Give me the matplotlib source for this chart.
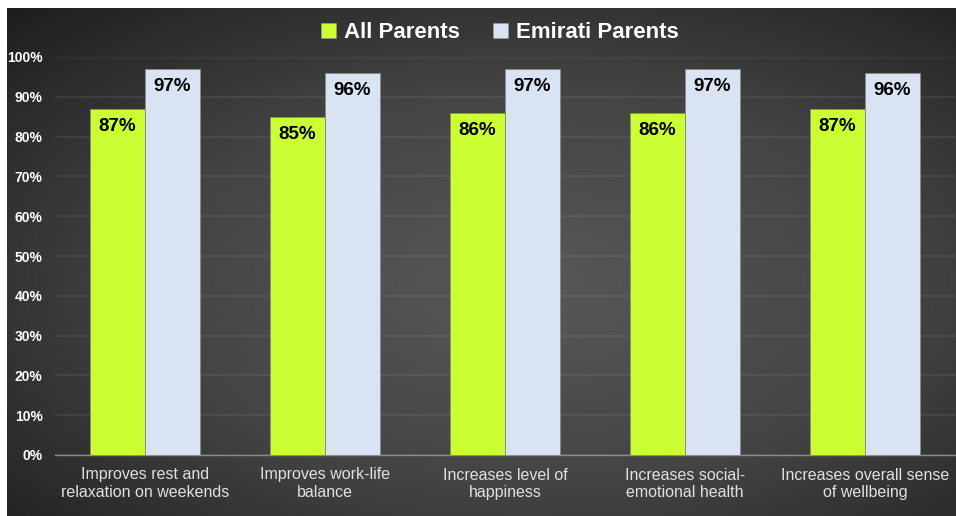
import matplotlib.pyplot as plt
import numpy as np
from matplotlib.colors import LinearSegmentedColormap
from matplotlib.patches import Patch

categories = [
    "Improves rest and\nrelaxation on weekends",
    "Improves work-life\nbalance",
    "Increases level of\nhappiness",
    "Increases social-\nemotional health",
    "Increases overall sense\nof wellbeing",
]
all_parents = [87, 85, 86, 86, 87]
emirati_parents = [97, 96, 97, 97, 96]
series_names = ["All Parents", "Emirati Parents"]
yticks = list(range(0, 101, 10))

GREEN = "#CCFF33"
BLUE = "#DAE3F3"

plt.rcParams["font.family"] = ["Liberation Sans", "DejaVu Sans"]

W, H = 956, 516
fig = plt.figure(figsize=(W / 100, H / 100), dpi=100, facecolor="white")

# dark panel with a soft radial glow
bg = fig.add_axes([7 / W, 0, (W - 7) / W, (H - 8) / H])
bg.set_axis_off()
yy, xx = np.mgrid[0:1:300j, 0:1:500j]
r = np.sqrt(((xx - 0.55) / 0.75) ** 2 + ((yy - 0.45) / 0.75) ** 2)
r = np.clip(r / r.max(), 0, 1)
cmap = LinearSegmentedColormap.from_list("panel", ["#585858", "#444444", "#1e1e1e"])
bg.imshow(r, cmap=cmap, aspect="auto", extent=[0, 1, 0, 1], origin="lower")

ax = fig.add_axes([55 / W, 1 - 455 / H, 900 / W, (455 - 57) / H])
ax.set_facecolor("none")

x = np.arange(len(categories))
bw = 0.305
b1 = ax.bar(x - bw / 2, all_parents, bw, color=GREEN, edgecolor="#8a8a8a",
            linewidth=0.5, zorder=3, label=series_names[0])
b2 = ax.bar(x + bw / 2, emirati_parents, bw, color=BLUE, edgecolor="#8a8a8a",
            linewidth=0.7, zorder=3, label=series_names[1])

for bars, vals in ((b1, all_parents), (b2, emirati_parents)):
    for rect, v in zip(bars, vals):
        ax.text(rect.get_x() + rect.get_width() / 2, v - 4.5, f"{v}%",
                ha="center", va="center", fontsize=13.5, fontweight="bold",
                color="black", zorder=4)

ax.set_xlim(-0.5, len(categories) - 0.5)
ax.set_ylim(0, 100)
ax.set_yticks(yticks)
ax.set_yticklabels([f"{t}%" for t in yticks], color="white",
                   fontsize=10, fontweight="bold")
ax.set_xticks(x)
ax.set_xticklabels(categories, color="#e0e0e0", fontsize=11.5, linespacing=1.2)
ax.tick_params(axis="both", length=0)
ax.tick_params(axis="y", pad=9)
ax.tick_params(axis="x", pad=9)

ax.yaxis.grid(True, color="white", alpha=0.08, linewidth=1.2, zorder=0)
ax.set_axisbelow(True)
for side in ("top", "right", "left"):
    ax.spines[side].set_visible(False)
ax.spines["bottom"].set_color("#8c8c8c")
ax.spines["bottom"].set_linewidth(1.0)

handles = [Patch(facecolor=GREEN, edgecolor="#9a9a9a", linewidth=0.4),
           Patch(facecolor=BLUE, edgecolor="#9a9a9a", linewidth=0.4)]
leg = fig.legend(handles, series_names, loc="center", bbox_to_anchor=(500 / W, 1 - 33 / H),
                 ncol=2, frameon=False, handlelength=0.68, handleheight=0.68,
                 handletextpad=0.35, columnspacing=1.5,
                 prop={"size": 16, "weight": "bold"})
for t in leg.get_texts():
    t.set_color("white")

fig.savefig("out.png", dpi=100, facecolor=fig.get_facecolor())
